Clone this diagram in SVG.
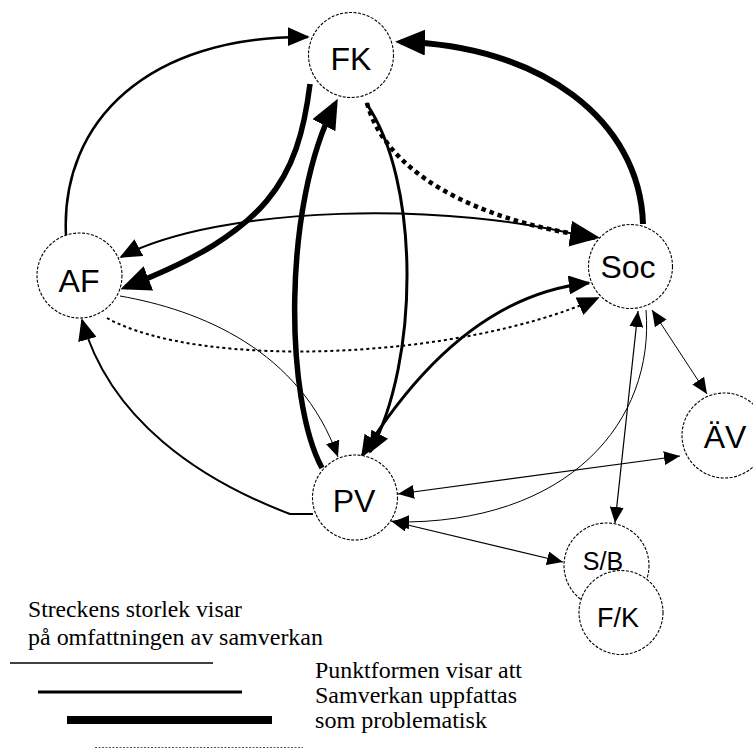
<svg xmlns="http://www.w3.org/2000/svg" width="753" height="749" viewBox="0 0 753 749">
<style>
.node circle{fill:#fff;stroke:#000;stroke-width:1.1;stroke-dasharray:3 1.5}
.node text{font-family:"Liberation Sans",Arial,sans-serif;font-size:32px;text-anchor:middle;fill:#000}
.c{fill:none;stroke:#000;stroke-linecap:butt}
.legend{font-family:"Liberation Serif","Times New Roman",serif;font-size:24px;fill:#000}
</style>
<defs>
<marker id="aS" viewBox="0 0 10 10" refX="10" refY="5" markerUnits="userSpaceOnUse" markerWidth="16" markerHeight="14" orient="auto-start-reverse" preserveAspectRatio="none"><path d="M0,0 L10,5 L0,10 z" fill="#000"/></marker>
<marker id="aM" viewBox="0 0 10 10" refX="9.2" refY="5" markerUnits="userSpaceOnUse" markerWidth="22" markerHeight="19" orient="auto-start-reverse" preserveAspectRatio="none"><path d="M0,0 L10,5 L0,10 z" fill="#000"/></marker>
<marker id="aL" viewBox="0 0 10 10" refX="8" refY="5" markerUnits="userSpaceOnUse" markerWidth="30" markerHeight="26" orient="auto-start-reverse" preserveAspectRatio="none"><path d="M0,0 L10,5 L0,10 z" fill="#000"/></marker>
</defs>
<rect width="753" height="749" fill="#fff"/>
<g id="connectors">
<!-- AF -> FK -->
<path class="c" stroke-width="2.5" d="M66,236 C60,120 150,35 308,37" marker-end="url(#aM)"/>
<!-- FK -> AF thick -->
<path class="c" stroke-width="5.5" d="M310,84 C298,180 268,232 126,287" marker-end="url(#aL)"/>
<!-- PV -> FK thick -->
<path class="c" stroke-width="5.5" d="M322,468 C285,400 282,205 335,104" marker-end="url(#aL)"/>
<!-- FK -> PV -->
<path class="c" stroke-width="3" d="M366,103 C420,180 420,360 370,452" marker-end="url(#aM)"/>
<!-- Soc -> FK thick -->
<path class="c" stroke-width="6" d="M643,224 C640,120 540,45 401,42" marker-end="url(#aL)"/>
<!-- FK -> Soc dotted -->
<path class="c" stroke-width="4.5" stroke-dasharray="4.5 4" d="M367,103 C385,170 470,220 594,237" marker-end="url(#aL)"/>
<!-- AF <-> Soc -->
<path class="c" stroke-width="2" d="M121,257 C220,205 450,200 594,239" marker-start="url(#aM)" marker-end="url(#aM)"/>
<!-- AF ... Soc dotted -->
<path class="c" stroke-width="2" stroke-dasharray="3 3" d="M107,318 C200,370 460,360 598,298" marker-end="url(#aM)"/>
<!-- AF -> PV thin -->
<path class="c" stroke-width="1" d="M120,296 C200,310 300,350 338,457" marker-end="url(#aS)"/>
<!-- PV -> AF -->
<path class="c" stroke-width="2" d="M313,514 L290,514 C200,480 110,420 82,320" marker-end="url(#aM)"/>
<!-- Soc <-> PV -->
<path class="c" stroke-width="3" d="M589,283 C520,290 440,330 362,456" marker-start="url(#aM)" marker-end="url(#aM)"/>
<!-- Soc -> PV thin curve -->
<path class="c" stroke-width="1" d="M646,310 C655,420 570,525 393,522" marker-end="url(#aS)"/>
<!-- AeV <-> PV -->
<path class="c" stroke-width="1.2" d="M680,456 L398,494" marker-start="url(#aS)" marker-end="url(#aS)"/>
<!-- PV <-> S/B -->
<path class="c" stroke-width="1.2" d="M391,521 L563,562" marker-start="url(#aS)" marker-end="url(#aS)"/>
<!-- Soc <-> S/B -->
<path class="c" stroke-width="1.2" d="M638,311 L615,523" marker-start="url(#aS)" marker-end="url(#aS)"/>
<!-- Soc <-> AeV -->
<path class="c" stroke-width="1" d="M652,310 L707,394" marker-start="url(#aS)" marker-end="url(#aS)"/>
</g>
<g id="FK" class="node"><circle cx="351" cy="55" r="42.5"/><text x="351" y="70">FK</text></g>
<g id="AF" class="node"><circle cx="79.5" cy="275.5" r="42.5"/><text x="79" y="292">AF</text></g>
<g id="Soc" class="node"><circle cx="630.5" cy="266.5" r="42"/><text x="628" y="278">Soc</text></g>
<g id="PV" class="node"><circle cx="355" cy="497.5" r="42.5"/><text x="354" y="512" font-size="30">PV</text></g>
<g id="AV" class="node"><circle cx="724.5" cy="435.5" r="42.5"/><text x="725" y="448">ÄV</text></g>
<g id="SB" class="node"><circle cx="606.5" cy="565.5" r="42.5"/><text x="603" y="570" style="font-size:25px">S/B</text></g>
<g id="FKsmall" class="node"><circle cx="621" cy="612.5" r="42"/><text x="618" y="627" style="font-size:27px">F/K</text></g>
<g id="legend">
<text class="legend" x="28" y="617" textLength="214" lengthAdjust="spacingAndGlyphs">Streckens storlek visar</text>
<text class="legend" x="28" y="645" textLength="295" lengthAdjust="spacingAndGlyphs">på omfattningen av samverkan</text>
<text class="legend" x="315" y="678" textLength="207" lengthAdjust="spacingAndGlyphs">Punktformen visar att</text>
<text class="legend" x="315" y="703" textLength="202" lengthAdjust="spacingAndGlyphs">Samverkan uppfattas</text>
<text class="legend" x="315" y="728" textLength="172" lengthAdjust="spacingAndGlyphs">som problematisk</text>
<path d="M10,663 H213" stroke="#000" stroke-width="1.5"/>
<path d="M38,692 H242" stroke="#000" stroke-width="3"/>
<path d="M67,720 H272" stroke="#000" stroke-width="8"/>
<path d="M95,747.5 H303" stroke="#555" stroke-width="1" stroke-dasharray="2 1.5"/>
</g>
</svg>
